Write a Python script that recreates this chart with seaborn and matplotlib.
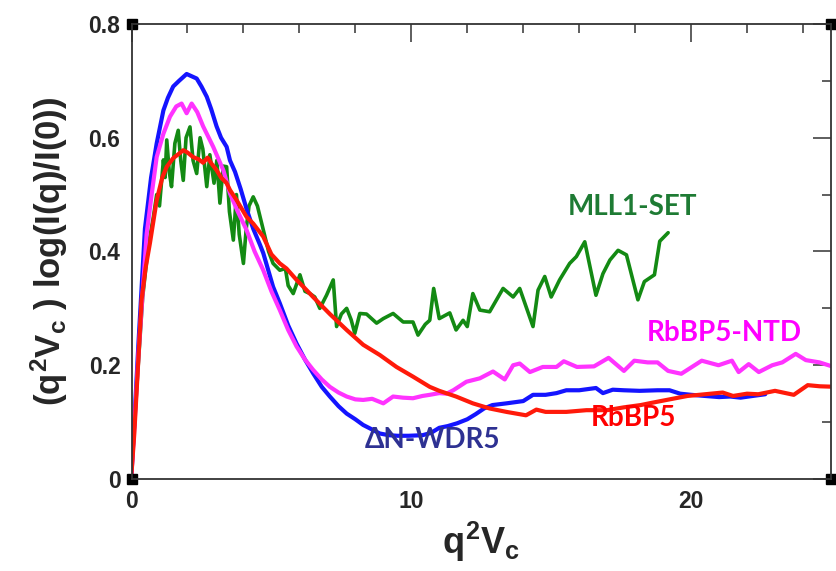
import numpy as np
import pandas as pd
import matplotlib
matplotlib.use("Agg")
import matplotlib.pyplot as plt
from matplotlib.ticker import MultipleLocator, FixedLocator, FixedFormatter
import seaborn as sns

# ---------------- data ----------------
series_names = ["MLL1-SET", "ΔN-WDR5", "RbBP5-NTD", "RbBP5"]

wdr5_pts = [(0, 0.01), (0.1, 0.1), (0.25, 0.24), (0.48, 0.44), (0.7, 0.53), (0.9, 0.59),
            (1.14, 0.648), (1.3, 0.67), (1.49, 0.69), (1.7, 0.70), (1.97, 0.712), (2.15, 0.708),
            (2.33, 0.704), (2.5, 0.69), (2.69, 0.672), (2.85, 0.65), (3.04, 0.62), (3.2, 0.60),
            (3.4, 0.584), (3.52, 0.56), (3.7, 0.54), (3.9, 0.51), (4.11, 0.475), (4.35, 0.44),
            (4.59, 0.412), (4.71, 0.397), (5.06, 0.338), (5.3, 0.309), (5.6, 0.27), (5.9, 0.238),
            (6.2, 0.21), (6.49, 0.186), (6.8, 0.162), (7.09, 0.145), (7.4, 0.128), (7.69, 0.115),
            (8.0, 0.105), (8.28, 0.095), (8.6, 0.087), (8.875, 0.08), (9.2, 0.077), (9.5, 0.076),
            (9.9, 0.076), (10.4, 0.077), (10.7, 0.081), (11.0, 0.09), (11.3, 0.093), (11.64, 0.098),
            (12.0, 0.105), (12.3, 0.114), (12.6, 0.124), (12.9, 0.13), (13.4, 0.133), (14.0, 0.137),
            (14.35, 0.148), (14.8, 0.148), (15.19, 0.151), (15.54, 0.156), (16.0, 0.156),
            (16.6, 0.16), (16.85, 0.151), (17.2, 0.157), (17.6, 0.156), (18.16, 0.155),
            (18.8, 0.156), (19.23, 0.156), (19.61, 0.15), (20.0, 0.148), (20.5, 0.146),
            (21.0, 0.144), (21.4, 0.145), (21.77, 0.143), (22.2, 0.146), (22.65, 0.149)]

ntd_pts = [(0, 0.01), (0.1, 0.09), (0.25, 0.22), (0.54, 0.43), (0.72, 0.50), (0.9, 0.566),
           (1.14, 0.607), (1.375, 0.637), (1.6, 0.655), (1.79, 0.66), (1.97, 0.643), (2.15, 0.66),
           (2.35, 0.645), (2.56, 0.62), (2.92, 0.584), (3.28, 0.543), (3.52, 0.502), (3.8, 0.47),
           (4.11, 0.438), (4.4, 0.40), (4.71, 0.367), (5.0, 0.33), (5.3, 0.297), (5.6, 0.262),
           (5.9, 0.233), (6.2, 0.21), (6.49, 0.192), (6.8, 0.175), (7.09, 0.162), (7.4, 0.152),
           (7.69, 0.145), (8.0, 0.14), (8.28, 0.139), (8.6, 0.141), (9.0, 0.133), (9.35, 0.145),
           (9.7, 0.143), (10.06, 0.142), (10.4, 0.146), (10.66, 0.148), (11.0, 0.151),
           (11.26, 0.15), (11.5, 0.156), (11.97, 0.171), (12.45, 0.177), (12.92, 0.189),
           (13.34, 0.175), (13.64, 0.2), (13.875, 0.203), (14.24, 0.188), (14.7, 0.197),
           (15.19, 0.197), (15.45, 0.207), (15.92, 0.197), (16.53, 0.198), (17.05, 0.213),
           (17.6, 0.19), (17.97, 0.208), (18.45, 0.205), (18.8, 0.205), (19.18, 0.19),
           (19.65, 0.185), (20.38, 0.208), (20.98, 0.2), (21.46, 0.208), (21.7, 0.188),
           (22.06, 0.202), (22.42, 0.188), (22.9, 0.2), (23.26, 0.205), (23.74, 0.22),
           (24.1, 0.209), (24.59, 0.205), (25.1, 0.197)]

rbbp5_pts = [(0, 0.01), (0.1, 0.08), (0.2, 0.17), (0.36, 0.315), (0.5, 0.37), (0.66, 0.415),
             (0.9, 0.49), (1.1, 0.53), (1.26, 0.549), (1.49, 0.564), (1.7, 0.572), (1.85, 0.578),
             (2.0, 0.574), (2.2, 0.566), (2.4, 0.562), (2.56, 0.556), (2.72, 0.565), (2.85, 0.555),
             (3.04, 0.543), (3.2, 0.53), (3.4, 0.52), (3.52, 0.508), (3.76, 0.49), (4.11, 0.461),
             (4.35, 0.449), (4.71, 0.426), (5.0, 0.395), (5.3, 0.379), (5.54, 0.37), (5.9, 0.35),
             (6.2, 0.335), (6.49, 0.32), (7.09, 0.29), (7.69, 0.262), (8.28, 0.236),
             (8.875, 0.218), (9.47, 0.197), (10.06, 0.18), (10.66, 0.162), (11.0, 0.155),
             (11.6, 0.145), (12.2, 0.133), (12.8, 0.124), (13.4, 0.118), (14.1, 0.112),
             (14.47, 0.122), (14.8, 0.118), (15.54, 0.118), (16.26, 0.121), (17.0, 0.121),
             (17.6, 0.126), (18.2, 0.13), (18.6, 0.134), (19.23, 0.14), (19.87, 0.146),
             (20.5, 0.149), (21.13, 0.152), (21.5, 0.146), (22.0, 0.15), (22.4, 0.149),
             (23.0, 0.155), (23.67, 0.148), (24.17, 0.165), (24.6, 0.163), (25.2, 0.162)]

mll1_pts = [(0, 0.01), (0.2, 0.17), (0.4, 0.32), (0.6, 0.41), (0.78, 0.46), (0.9, 0.5),
            (1.0, 0.48), (1.14, 0.561), (1.2, 0.53), (1.26, 0.596), (1.35, 0.54), (1.43, 0.514),
            (1.55, 0.59), (1.67, 0.613), (1.76, 0.56), (1.85, 0.525), (1.95, 0.6), (2.09, 0.619),
            (2.2, 0.56), (2.33, 0.537), (2.45, 0.6), (2.55, 0.58), (2.69, 0.514), (2.8, 0.57),
            (2.95, 0.52), (3.05, 0.56), (3.16, 0.485), (3.28, 0.55), (3.4, 0.549), (3.5, 0.47),
            (3.64, 0.42), (3.75, 0.5), (3.85, 0.43), (4.0, 0.379), (4.1, 0.44), (4.2, 0.48),
            (4.35, 0.496), (4.5, 0.48), (4.71, 0.438), (4.9, 0.40), (5.06, 0.379), (5.3, 0.367),
            (5.5, 0.37), (5.6, 0.34), (5.78, 0.326), (6.02, 0.359), (6.2, 0.33), (6.375, 0.326),
            (6.55, 0.32), (6.73, 0.3), (6.97, 0.323), (7.21, 0.35), (7.33, 0.268), (7.5, 0.29),
            (7.69, 0.3), (7.85, 0.28), (7.98, 0.256), (8.16, 0.291), (8.4, 0.29), (8.76, 0.274),
            (9.0, 0.282), (9.35, 0.291), (9.71, 0.276), (10.06, 0.276), (10.24, 0.253),
            (10.5, 0.272), (10.66, 0.279), (10.8, 0.335), (11.0, 0.282), (11.375, 0.292),
            (11.6, 0.262), (11.85, 0.279), (12.0, 0.268), (12.2, 0.326), (12.45, 0.297),
            (12.8, 0.294), (13.28, 0.335), (13.64, 0.32), (13.875, 0.335), (14.35, 0.268),
            (14.53, 0.332), (14.77, 0.356), (15.0, 0.32), (15.3, 0.35), (15.66, 0.379),
            (15.9, 0.391), (16.2, 0.417), (16.6, 0.323), (16.85, 0.361), (17.1, 0.385),
            (17.39, 0.402), (17.69, 0.394), (18.1, 0.315), (18.33, 0.347), (18.69, 0.359),
            (18.88, 0.418), (19.18, 0.433)]

x_ticks = [0, 10, 20]
x_ticklabels = ["0", "10", "20"]
y_ticks = [0, 0.2, 0.4, 0.6, 0.8]
y_ticklabels = ["0", "0.2", "0.4", "0.6", "0.8"]

line_colors = {"MLL1-SET": "#138a13", "ΔN-WDR5": "#1414ff",
               "RbBP5-NTD": "#ff33ff", "RbBP5": "#ff1a0a"}
label_colors = {"MLL1-SET": "#1e7b34", "ΔN-WDR5": "#2e3192",
                "RbBP5-NTD": "#ff00ff", "RbBP5": "#ff0000"}
label_pos = {"MLL1-SET": (17.9, 0.478), "ΔN-WDR5": (10.75, 0.068),
             "RbBP5-NTD": (21.2, 0.257), "RbBP5": (17.95, 0.107)}

# ---------------- build long table ----------------
pts = {"MLL1-SET": mll1_pts, "ΔN-WDR5": wdr5_pts, "RbBP5-NTD": ntd_pts, "RbBP5": rbbp5_pts}
rows = []
for name in series_names:
    for order, (xv, yv) in enumerate(pts[name]):
        rows.append({"series": name, "x": xv, "y": yv, "order": order})
df = pd.DataFrame(rows)

# ---------------- style ----------------
sns.set_style("white")
plt.rcParams["font.family"] = ["Liberation Sans", "DejaVu Sans"]
plt.rcParams["mathtext.fontset"] = "custom"
plt.rcParams["mathtext.rm"] = "Liberation Sans:bold"
plt.rcParams["mathtext.it"] = "Liberation Sans:bold"
plt.rcParams["mathtext.bf"] = "Liberation Sans:bold"

fig = plt.figure(figsize=(8.36, 5.71), dpi=100)
ax = fig.add_axes([0.1573, 0.1611, 0.8367, 0.797])

sns.lineplot(data=df, x="x", y="y", hue="series", hue_order=series_names,
             palette=line_colors, estimator=None, sort=False, legend=False,
             linewidth=3.0, ax=ax)
for ln in ax.lines:
    ln.set_solid_joinstyle("round")
    ln.set_solid_capstyle("round")
ax.lines[0].set_linewidth(2.6)

ax.set_xlim(0, 25)
ax.set_ylim(0, 0.8)
ax.xaxis.set_major_locator(FixedLocator(x_ticks))
ax.xaxis.set_major_formatter(FixedFormatter(x_ticklabels))
ax.yaxis.set_major_locator(FixedLocator(y_ticks))
ax.yaxis.set_major_formatter(FixedFormatter(y_ticklabels))
ax.xaxis.set_minor_locator(MultipleLocator(2))
ax.yaxis.set_minor_locator(MultipleLocator(0.1))

ax.tick_params(which="both", direction="in", top=True, right=True,
               color="#333333", width=1.1)
ax.tick_params(which="major", length=13, labelsize=16.5, pad=8)
ax.tick_params(which="minor", length=6.5)
for lab in ax.get_xticklabels() + ax.get_yticklabels():
    lab.set_fontweight("bold")
for sp in ax.spines.values():
    sp.set_color("#333333")
    sp.set_linewidth(1.3)

ax.set_xlabel(r"$q^2V_c$", fontsize=26, fontweight="bold", labelpad=5)
ax.set_ylabel(r"$(q^2V_c\ )$ log(I(q)/I(0))", fontsize=25, fontweight="bold")
ax.yaxis.set_label_coords(-0.088, 0.5)

# corner squares (axes decoration)
ax.plot([0, 1, 0, 1], [0, 0, 1, 1], "s", color="black", ms=6.5,
        transform=ax.transAxes, clip_on=False)

for name in series_names:
    xp, yp = label_pos[name]
    ax.text(xp, yp, name, color=label_colors[name], fontsize=20,
            fontweight="bold", family=["Lato", "DejaVu Sans"],
            ha="center", va="center")

fig.savefig("out.png", dpi=100)
